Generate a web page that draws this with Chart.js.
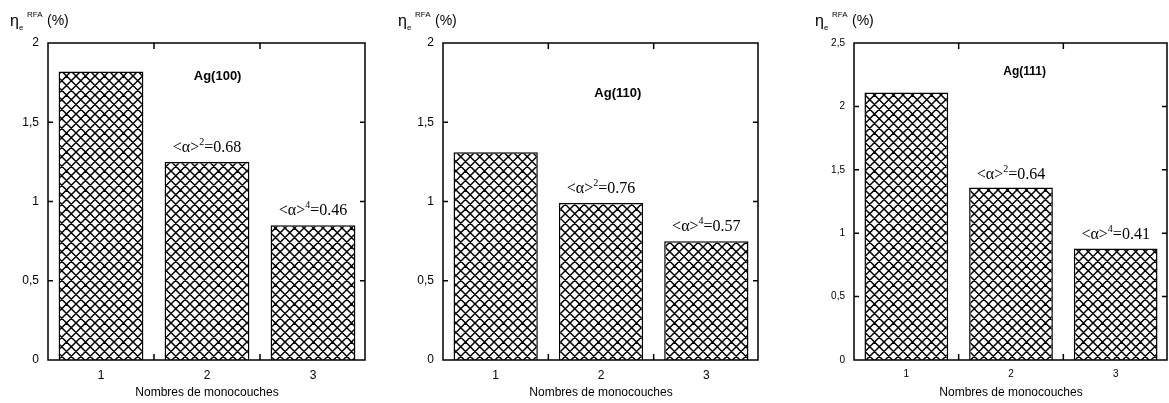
<!DOCTYPE html>
<html>
<head>
<meta charset="utf-8">
<script src="https://cdn.jsdelivr.net/npm/chart.js@4.4.1/dist/chart.umd.min.js"></script>
<style>
  body { margin: 0; background: #fff; width: 1169px; height: 403px; position: relative; overflow: hidden; }
  canvas { position: absolute; top: 0; }
</style>
</head>
<body>
<canvas id="c100" width="380" height="403" style="left:0px"></canvas>
<canvas id="c110" width="385" height="403" style="left:380px"></canvas>
<canvas id="c111" width="399" height="403" style="left:770px"></canvas>
<script>
// données
const categories = ['1', '2', '3'];
const ag100 = [1.82, 1.25, 0.85];
const ag110 = [1.31, 0.99, 0.75];
const ag111 = [2.11, 1.36, 0.88];
const powers = [null, 2, 4];
const alpha100 = [null, '0.68', '0.46'];
const alpha110 = [null, '0.76', '0.57'];
const alpha111 = [null, '0.64', '0.41'];

const SANS = '"Liberation Sans", Arial, sans-serif';
const SERIF = '"Liberation Serif", "Times New Roman", serif';

// motif quadrillé (hachures croisées)
function hatch(ctx) {
    const c = document.createElement('canvas');
    c.width = 19; c.height = 19;
    const g = c.getContext('2d');
    g.fillStyle = '#fff';
    g.fillRect(0, 0, 19, 19);
    g.strokeStyle = '#000';
    g.lineWidth = 1.5;
    g.beginPath();
    for (let k = -2; k <= 4; k++) {
        const o = k * 9.5;
        g.moveTo(o - 2, -2); g.lineTo(o + 21, 21);
        g.moveTo(o + 2, -2); g.lineTo(o - 21, 21);
    }
    g.stroke();
    return ctx.createPattern(c, 'repeat');
}

function makePanel(id, title, values, alphas, opt) {
    const ctx = document.getElementById(id).getContext('2d');

    const deco = {
        id: 'deco_' + id,
        afterDraw(chart) {
            const g = chart.ctx;
            const x = chart.scales.x, y = chart.scales.y;
            const L = x.left, R = x.right, T = y.top, B = y.bottom;
            g.save();
            g.strokeStyle = '#000';
            g.lineWidth = 1.5;
            g.setLineDash([]);
            // cadre
            g.beginPath();
            g.rect(L, T, R - L - 1, B - T);
            // graduations vers l'intérieur
            y.ticks.forEach(t => {
                const py = y.getPixelForValue(t.value);
                g.moveTo(L, py); g.lineTo(L + 5, py);
                g.moveTo(R - 1, py); g.lineTo(R - 6, py);
            });
            [0.5, 1.5].forEach(v => {
                const px = x.getPixelForValue(v);
                g.moveTo(px, T); g.lineTo(px, T + 6);
                g.moveTo(px, B); g.lineTo(px, B - 6);
            });
            g.stroke();

            g.fillStyle = '#000';
            g.textBaseline = 'alphabetic';
            // titre du panneau
            g.font = 'bold ' + opt.titleSize + 'px ' + SANS;
            g.textAlign = 'center';
            g.fillText(title, x.getPixelForValue(opt.titleAt[0]), y.getPixelForValue(opt.titleAt[1]) + 5);

            // étiquettes <α>^n
            g.textAlign = 'left';
            alphas.forEach((val, i) => {
                if (!val) return;
                const big = '16px ' + SERIF, small = '10px ' + SERIF;
                g.font = big;
                const wa = g.measureText('<α>').width;
                const wc = g.measureText('=' + val).width;
                g.font = small;
                const wb = g.measureText(String(powers[i])).width;
                const cx = x.getPixelForValue(i);
                const by = y.getPixelForValue(values[i]) - opt.labelGap;
                const sx = cx - (wa + wb + wc) / 2;
                g.font = big;
                g.fillText('<α>', sx, by);
                g.font = small;
                g.fillText(String(powers[i]), sx + wa, by - 7);
                g.font = big;
                g.fillText('=' + val, sx + wa + wb, by);
            });

            // titre de l'axe y : η_e^RFA (%)
            const ex = opt.etaX;
            g.font = '16px ' + SANS;
            g.fillText('η', ex, 26);
            g.font = '8px ' + SANS;
            g.fillText('e', ex + 9, 30);
            g.fillText('RFA', ex + 17, 17);
            g.font = '14px ' + SANS;
            g.fillText('(%)', ex + 37, 25);
            g.restore();
        }
    };

    new Chart(ctx, {
        type: 'bar',
        data: {
            labels: categories,
            datasets: [{
                data: values,
                backgroundColor: hatch(ctx),
                borderColor: '#000',
                borderWidth: 1.5,
                barPercentage: 0.8,
                categoryPercentage: 1.0
            }]
        },
        options: {
            responsive: false,
            animation: false,
            layout: { padding: { top: 43, right: opt.right, left: 0, bottom: 0 } },
            plugins: {
                legend: { display: false },
                tooltip: { enabled: false }
            },
            scales: {
                x: {
                    grid: { display: false, drawTicks: false },
                    border: { display: false },
                    ticks: {
                        color: '#000',
                        padding: 8,
                        maxRotation: 0,
                        font: { family: SANS, size: opt.tickSize }
                    },
                    title: {
                        display: true,
                        text: 'Nombres de monocouches',
                        color: '#000',
                        font: { family: SANS, size: 12 },
                        padding: { top: 0, bottom: 3 }
                    },
                    afterFit: s => { s.height = 43; }
                },
                y: {
                    min: 0,
                    max: opt.max,
                    grid: { display: false, drawTicks: false },
                    border: { display: false },
                    ticks: {
                        stepSize: 0.5,
                        color: '#000',
                        padding: 9,
                        font: { family: SANS, size: opt.tickSize },
                        callback: v => String(v).replace('.', ',')
                    },
                    afterFit: s => { s.width = opt.left; }
                }
            }
        },
        plugins: [deco]
    });
}

makePanel('c100', 'Ag(100)', ag100, alpha100,
    { left: 48, right: 14, max: 2, tickSize: 12, titleSize: 13, titleAt: [1.1, 1.8], etaX: 10, labelGap: 10 });
makePanel('c110', 'Ag(110)', ag110, alpha110,
    { left: 63, right: 6, max: 2, tickSize: 12, titleSize: 13, titleAt: [1.16, 1.69], etaX: 18, labelGap: 10 });
makePanel('c111', 'Ag(111)', ag111, alpha111,
    { left: 84, right: 1, max: 2.5, tickSize: 10, titleSize: 12, titleAt: [1.13, 2.29], etaX: 45, labelGap: 9 });
</script>
</body>
</html>
